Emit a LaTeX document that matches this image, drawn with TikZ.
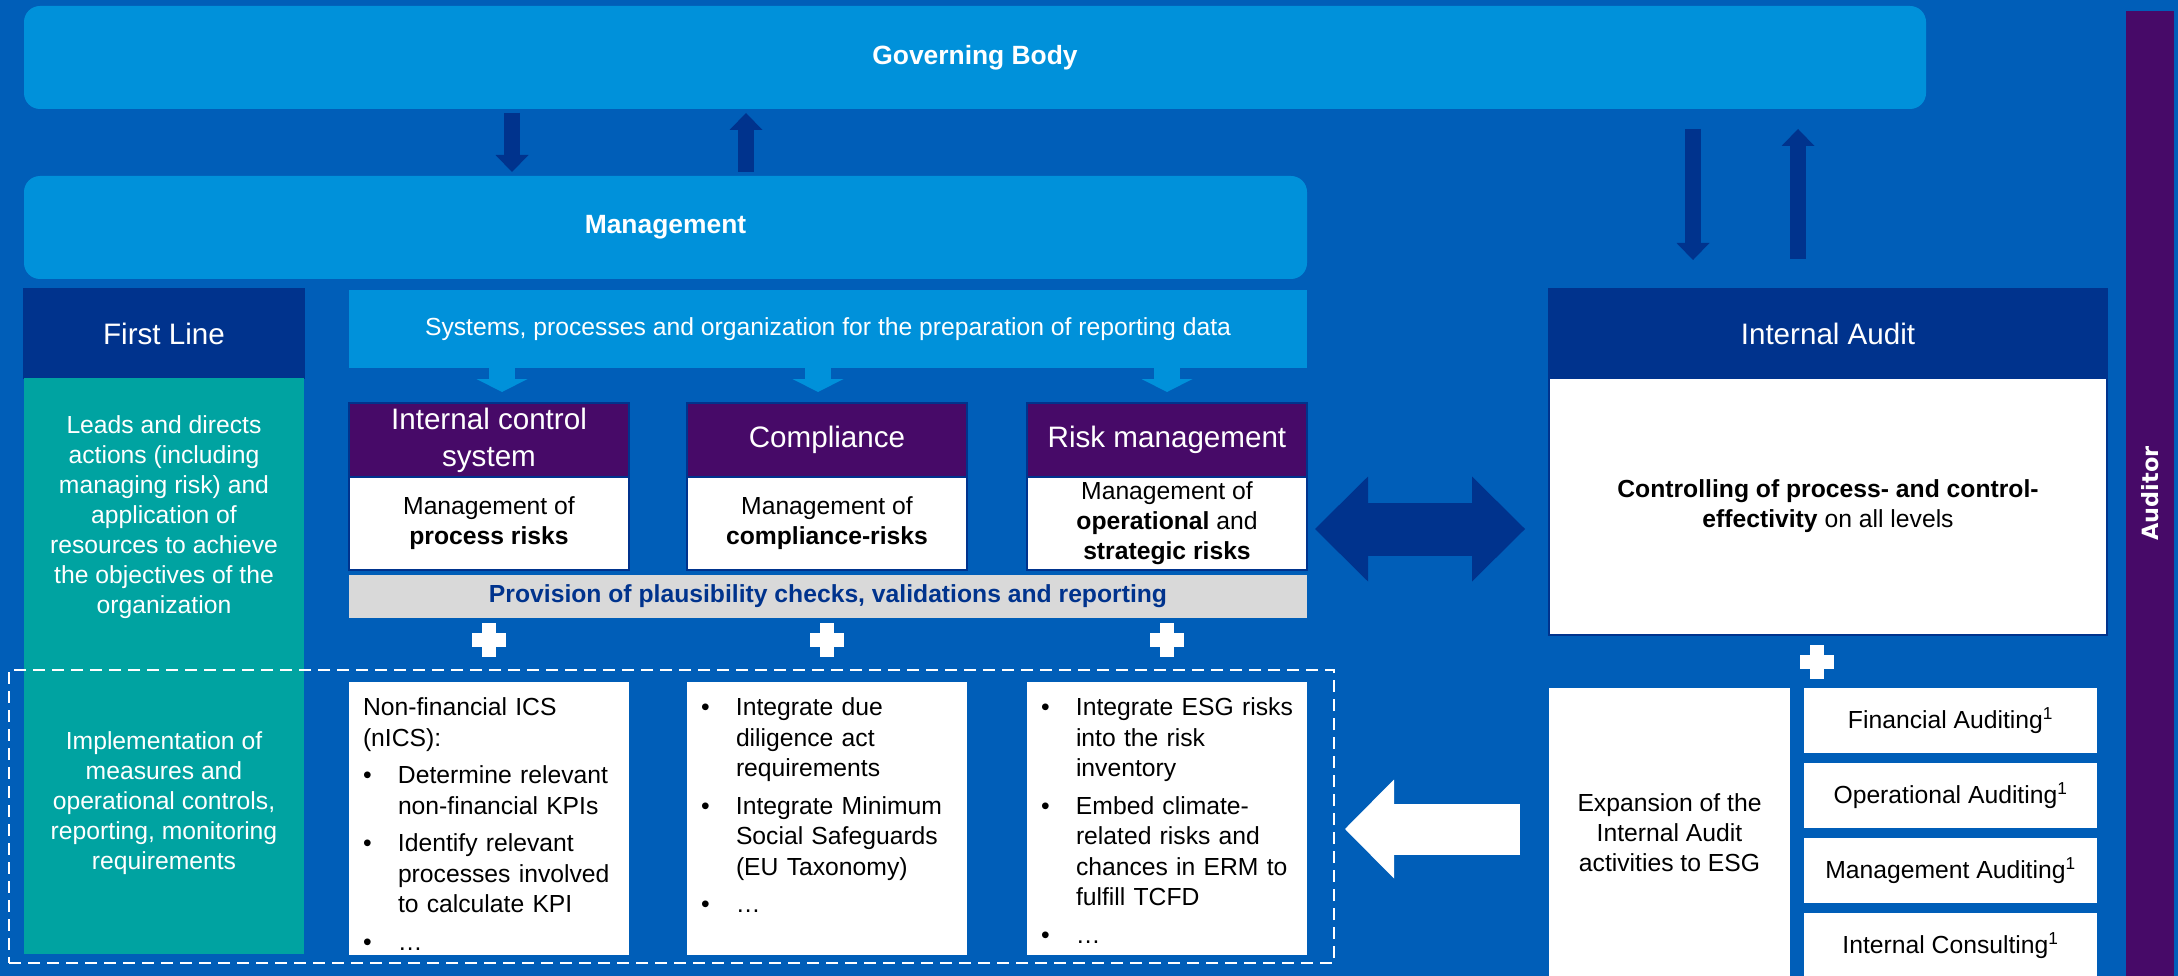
\documentclass[tikz,border=0pt]{standalone}
\usepackage{fontspec}
\setmainfont{Liberation Sans}
\newfontfamily\auditorFont{DejaVu Sans}
\usepackage{tikz}
\usetikzlibrary{arrows.meta, calc, positioning}
\definecolor{kpmgBlue}{HTML}{005EB8}
\definecolor{kpmgDark}{HTML}{00338D}
\definecolor{kpmgLight}{HTML}{0091DA}
\definecolor{kpmgPurple}{HTML}{470A68}
\definecolor{kpmgTeal}{HTML}{00A3A1}
\definecolor{kpmgGrey}{HTML}{D9D9D9}
\newcommand{\fontBody}{\fontsize{24.7}{30}\selectfont}
\newcommand{\fontList}{\fontsize{24.7}{30.5}\selectfont}
\newcommand{\fontHead}{\fontsize{29.6}{37}\selectfont}
\newcommand{\fontTitle}{\fontsize{26.4}{32}\selectfont\bfseries}
\newcommand{\bulletItem}[1]{\noindent\hangindent=35pt\hangafter=1\makebox[35pt][l]{\textbullet}#1}

\begin{document}
\begin{tikzpicture}[x=1pt, y=-1pt,
    every node/.style={inner sep=0pt, outer sep=0pt},
    lightBox/.style={fill=kpmgLight, text=white},
    darkHead/.style={fill=kpmgDark, draw=kpmgDark, line width=1.5pt, text=white, font=\fontHead},
    purpleHead/.style={fill=kpmgPurple, draw=kpmgDark, line width=1.5pt, text=white, font=\fontHead,
        align=center, minimum width=280pt, minimum height=74pt},
    whiteBox/.style={fill=white, draw=kpmgDark, line width=1.5pt, font=\fontBody, align=center},
    plainBox/.style={fill=white, font=\fontBody, align=center},
    listText/.style={font=\fontList, text width=262pt, align=left, anchor=north west,
        execute at begin node={\setlength{\parskip}{7pt}}},
    tealText/.style={text=white, font=\fontBody, align=center},
    bigArrow/.style={kpmgDark, line width=16pt, -{Triangle[width=33pt, length=17pt, line width=0pt]}},
    sysArrow/.style={kpmgLight, line width=26pt, -{Triangle[width=51pt, length=13pt, line width=0pt]}, shorten >=11pt},
    dblArrow/.style={kpmgDark, line width=53pt,
        {Triangle[width=105pt, length=53pt, line width=0pt]}-{Triangle[width=105pt, length=53pt, line width=0pt]}},
    esgArrow/.style={white, line width=51pt, -{Triangle[width=99pt, length=49pt, line width=0pt]}}]
    % 背景
    \useasboundingbox (0,0) rectangle (2178,976);
    \fill[kpmgBlue] (0,0) rectangle (2178,976);

    % 上部
    \node[lightBox, rounded corners=16pt, minimum width=1902pt, minimum height=103pt, font=\fontTitle] (gov) at (975,57.5) {Governing Body};
    \node[lightBox, rounded corners=16pt, minimum width=1283pt, minimum height=103pt, font=\fontTitle] (mgmt) at (665.5,227.5) {Management};

    % First Line
    \node[darkHead, minimum width=280pt, minimum height=89pt] (firstLine) at (164,333.5) {First Line};
    \node[fill=kpmgTeal, minimum width=280pt, minimum height=576pt] (teal) at (164,666) {};
    \node[tealText] (leads) at (164,517) {Leads and directs\\actions (including\\managing risk) and\\application of\\resources to achieve\\the objectives of the\\organization};
    \node[tealText] (implement) at (164,803) {Implementation of\\measures and\\operational controls,\\reporting, monitoring\\requirements};

    \node[lightBox, minimum width=958pt, minimum height=78pt, font=\fontBody] (systems) at (828,329) {Systems, processes and organization for the preparation of reporting data};

    \node[purpleHead] (icsHead) at (489,440) {Internal control\\system};
    \node[purpleHead] (compHead) at (827,440) {Compliance};
    \node[purpleHead] (riskHead) at (1167,440) {Risk management};
    \node[whiteBox, below=0pt of icsHead, minimum width=280pt, minimum height=93pt] (icsMid) {Management of\\\textbf{process risks}};
    \node[whiteBox, below=0pt of compHead, minimum width=280pt, minimum height=93pt] (compMid) {Management of\\\textbf{compliance-risks}};
    \node[whiteBox, below=0pt of riskHead, minimum width=280pt, minimum height=93pt] (riskMid) {Management of\\\textbf{operational} and\\\textbf{strategic risks}};

    \node[fill=kpmgGrey, minimum width=958pt, minimum height=43pt, font=\fontBody\bfseries, text=kpmgDark] (checks) at (828,596.5) {Provision of plausibility checks, validations and reporting};

    % ESG
    \node[plainBox, minimum width=280pt, minimum height=273pt] (icsBot) at (489,818.5) {};
    \node[plainBox, minimum width=280pt, minimum height=273pt] (compBot) at (827,818.5) {};
    \node[plainBox, minimum width=280pt, minimum height=273pt] (riskBot) at (1167,818.5) {};
    \node[listText] (icsList) at ([xshift=14pt, yshift=-16pt]icsBot.north west) {Non-financial ICS\newline (nICS):
        \par\bulletItem{Determine relevant\newline non-financial KPIs}
        \par\bulletItem{Identify relevant\newline processes involved\newline to calculate KPI}
        \par\bulletItem{…}};
    \node[listText] (compList) at ([xshift=14pt, yshift=-16pt]compBot.north west) {\bulletItem{Integrate due\newline diligence act\newline requirements}
        \par\bulletItem{Integrate Minimum\newline Social Safeguards\newline (EU Taxonomy)}
        \par\bulletItem{…}};
    \node[listText] (riskList) at ([xshift=14pt, yshift=-16pt]riskBot.north west) {\bulletItem{Integrate ESG risks\newline into the risk\newline inventory}
        \par\bulletItem{Embed climate-\newline related risks and\newline chances in ERM to\newline fulfill TCFD}
        \par\bulletItem{…}};
    \node[draw=white, dash pattern=on 12pt off 7pt, line width=2.5pt, minimum width=1325pt, minimum height=293pt] (implFrame) at (671.5,816.5) {};

    % Internal Audit
    \node[darkHead, minimum width=558pt, minimum height=89pt] (iaHead) at (1828,333.5) {Internal Audit};
    \node[whiteBox, below=0pt of iaHead, minimum width=558pt, minimum height=257pt] (iaBody) {\textbf{Controlling of process- and control-}\\\textbf{effectivity} on all levels};
    \node[plainBox, minimum width=241pt, minimum height=290pt] (expansion) at (1669.5,833) {Expansion of the\\Internal Audit\\activities to ESG};
    \foreach \yy/\nm/\txt in {720.5/finAudit/Financial Auditing, 795.5/opAudit/Operational Auditing,
        870.5/mgmtAudit/Management Auditing, 945.5/consulting/Internal Consulting} {
        \node[plainBox, minimum width=293pt, minimum height=65pt] (\nm) at (1950.5,\yy) {\txt\textsuperscript{1}};
    }

    \node[fill=kpmgPurple, rotate=90, minimum width=965pt, minimum height=48pt, text=white,
        font=\auditorFont\bfseries\fontsize{22.4}{26}\selectfont] (auditor) at (2150,493.5) {Auditor};

    % 矢印
    \coordinate (govDown) at (512,0);
    \coordinate (govUp) at (746,0);
    \coordinate (iaDown) at (1693,0);
    \coordinate (iaUp) at (1798,0);
    \draw[bigArrow, shorten <=4pt, shorten >=4pt] (gov.south -| govDown) -- (mgmt.north -| govDown);
    \draw[bigArrow, shorten <=4pt, shorten >=4pt] (mgmt.north -| govUp) -- (gov.south -| govUp);
    \draw[bigArrow, shorten <=20pt, shorten >=29pt] (gov.south -| iaDown) -- (iaHead.north -| iaDown);
    \draw[bigArrow, shorten <=30pt, shorten >=20pt] (iaHead.north -| iaUp) -- (gov.south -| iaUp);

    \foreach \ax/\hd in {502/icsHead, 818/compHead, 1167/riskHead} {
        \coordinate (sys\hd) at (\ax,0);
        \draw[sysArrow] (systems.south -| sys\hd) -- (\hd.north -| sys\hd);
    }

    \coordinate (dblY) at (0,529);
    \draw[dblArrow, shorten <=8pt, shorten >=24pt] (riskMid.east |- dblY) -- (iaBody.west |- dblY);
    \coordinate (esgY) at (0,829);
    \draw[esgArrow, shorten <=29pt, shorten >=11pt] (expansion.west |- esgY) -- (implFrame.east |- esgY);

    % プラス記号
    \foreach \px/\py in {489/640, 827/640, 1167/640, 1817/662} {
        \fill[white] ({\px-17},{\py-7}) rectangle ({\px+17},{\py+7});
        \fill[white] ({\px-7},{\py-17}) rectangle ({\px+7},{\py+17});
    }
\end{tikzpicture}
\end{document}
